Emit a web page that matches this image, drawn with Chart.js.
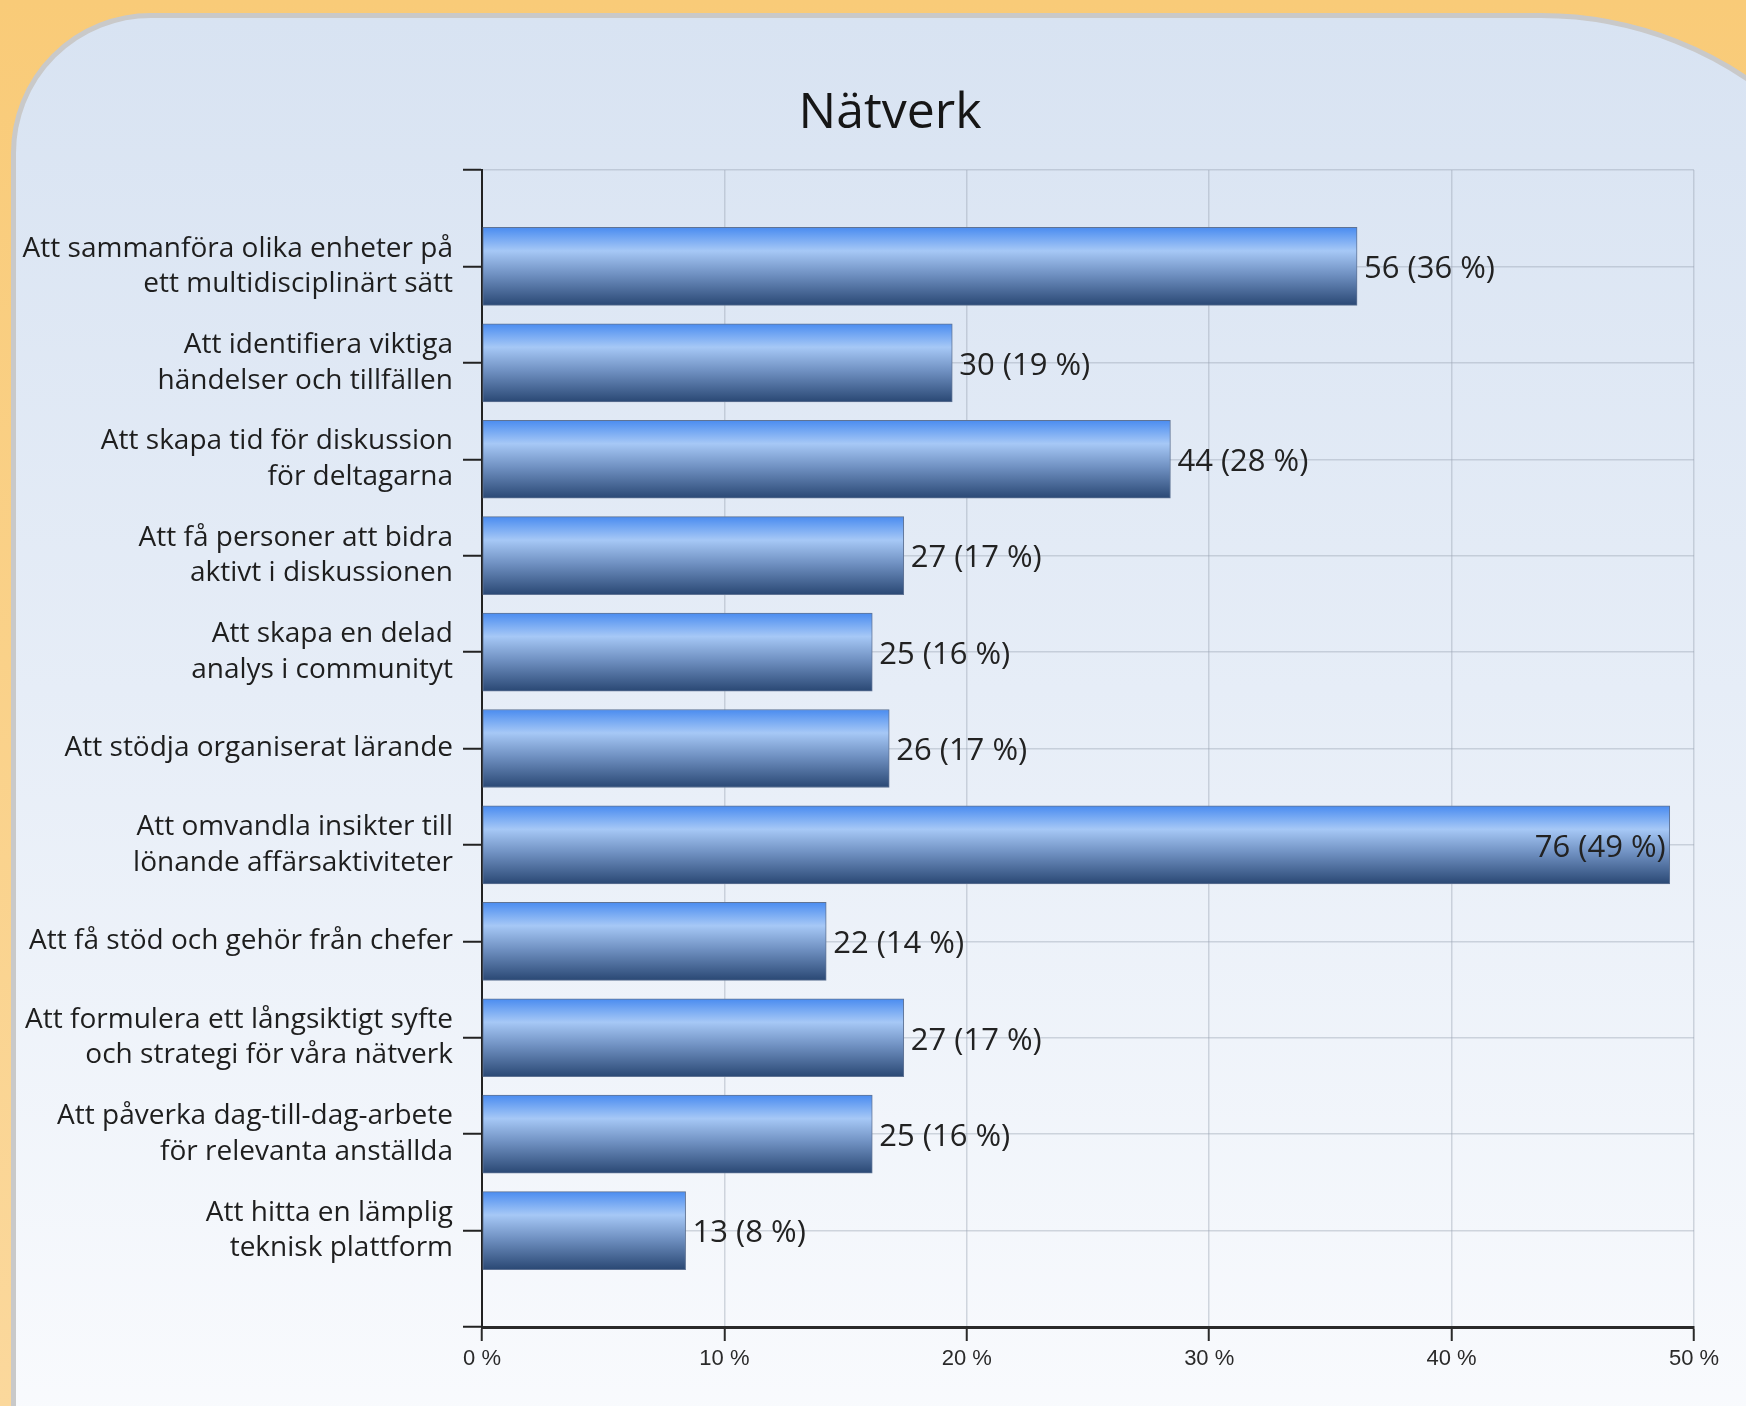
<!DOCTYPE html>
<html>
<head>
<meta charset="utf-8">
<script src="https://cdn.jsdelivr.net/npm/chart.js@4/dist/chart.umd.min.js"></script>
<style>
  html, body { margin: 0; padding: 0; }
  body {
    width: 1746px; height: 1406px; overflow: hidden; position: relative;
    background: linear-gradient(#f9cb78, #fbd89c);
  }
  #panel {
    position: absolute; left: 11px; top: 13px; width: 1900px; height: 1500px;
    box-sizing: border-box; border: 5px solid #c9c9c9;
    border-radius: 140px 370px 0 0;
    background: linear-gradient(#d8e3f2 0%, #e6edf7 45%, #fbfcfe 100%);
  }
  #wrap { position: absolute; left: 0; top: 0; width: 1800px; height: 1406px; }
</style>
</head>
<body>
<div id="panel"></div>
<div id="wrap"><canvas id="chart" width="1800" height="1406"></canvas></div>
<script>
const categories = [
  ['Att sammanföra olika enheter på', 'ett multidisciplinärt sätt'],
  ['Att identifiera viktiga', 'händelser och tillfällen'],
  ['Att skapa tid för diskussion', 'för deltagarna'],
  ['Att få personer att bidra', 'aktivt i diskussionen'],
  ['Att skapa en delad', 'analys i communityt'],
  'Att stödja organiserat lärande',
  ['Att omvandla insikter till', 'lönande affärsaktiviteter'],
  'Att få stöd och gehör från chefer',
  ['Att formulera ett långsiktigt syfte', 'och strategi för våra nätverk'],
  ['Att påverka dag-till-dag-arbete', 'för relevanta anställda'],
  ['Att hitta en lämplig', 'teknisk plattform']
];
// antal svar
const counts = [56, 30, 44, 27, 25, 26, 76, 22, 27, 25, 13];
// andel i procent (stapellängd)
const shares = [36.1, 19.4, 28.4, 17.4, 16.1, 16.8, 49.0, 14.2, 17.4, 16.1, 8.4];
// avrundad procent i etiketten
const shareLabels = [36, 19, 28, 17, 16, 17, 49, 14, 17, 16, 8];
const xTicks = [0, 10, 20, 30, 40, 50];

const BAR = 78;
const FONT = '"Open Sans", "Noto Sans", sans-serif';

// empty slots above and below so the bars sit one step in from the frame
const labels = [''].concat(categories, ['']);
const values = [null].concat(shares, [null]);

// glossy vertical gradient, set per bar once positions are known
const barShine = {
  id: 'barShine',
  beforeDatasetsDraw(chart) {
    const ctx = chart.ctx;
    chart.getDatasetMeta(0).data.forEach(bar => {
      if (!bar.options || Object.isFrozen(bar.options) || !isFinite(bar.y)) return;
      const h = bar.height || BAR;
      const g = ctx.createLinearGradient(0, bar.y - h / 2, 0, bar.y + h / 2);
      g.addColorStop(0, '#4a8cf0');
      g.addColorStop(0.3, '#a6c8f6');
      g.addColorStop(0.6, '#7091c2');
      g.addColorStop(1, '#2a4874');
      bar.options.backgroundColor = g;
    });
  }
};

const valueLabels = {
  id: 'valueLabels',
  afterDatasetsDraw(chart) {
    const ctx = chart.ctx;
    const meta = chart.getDatasetMeta(0);
    ctx.save();
    ctx.font = '31px ' + FONT;
    ctx.fillStyle = '#222';
    ctx.textBaseline = 'middle';
    meta.data.forEach((bar, i) => {
      if (values[i] == null) return;
      const k = i - 1;
      const text = `${counts[k]} (${shareLabels[k]} %)`;
      const w = ctx.measureText(text).width;
      if (bar.x + 6 + w > chart.chartArea.right) {
        ctx.textAlign = 'right';
        ctx.fillText(text, bar.x - 4, bar.y + 3);
      } else {
        ctx.textAlign = 'left';
        ctx.fillText(text, bar.x + 7, bar.y + 3);
      }
    });
    ctx.restore();
  }
};

new Chart(document.getElementById('chart'), {
  type: 'bar',
  data: {
    labels,
    datasets: [{
      data: values,
      backgroundColor: () => '#5b86c4',
      borderColor: '#5f7394',
      borderWidth: 1,
      borderSkipped: false,
      barThickness: BAR
    }]
  },
  options: {
    indexAxis: 'y',
    responsive: false,
    animation: false,
    devicePixelRatio: 1,
    layout: { padding: { left: 0, right: 20, top: 0, bottom: 0 } },
    plugins: {
      legend: { display: false },
      tooltip: { enabled: false },
      title: {
        display: true,
        text: 'Nätverk',
        color: '#161616',
        font: { family: FONT, size: 50, weight: 'normal', lineHeight: 1.2 },
        padding: { top: 84, bottom: 26 }
      }
    },
    scales: {
      x: {
        min: 0,
        max: 50,
        afterBuildTicks: s => { s.ticks = xTicks.map(v => ({ value: v })); },
        afterFit: s => { s.height = 79; },
        border: { color: '#2a2a2a', width: 3 },
        grid: { color: 'rgba(150,160,175,0.4)', lineWidth: 1.5, tickColor: '#2a2a2a', tickWidth: 2, tickLength: 14 },
        ticks: {
          padding: 5,
          color: '#2a2a2a',
          font: { family: '"Liberation Sans", Arial, sans-serif', size: 22 },
          callback: v => v + ' %'
        }
      },
      y: {
        offset: false,
        afterFit: s => { s.width = 482; },
        border: { color: '#222', width: 2 },
        grid: { offset: false, color: 'rgba(150,160,175,0.4)', lineWidth: 1.5, tickColor: '#222', tickWidth: 2, tickLength: 19 },
        ticks: {
          padding: 10,
          color: '#1e1e1e',
          autoSkip: false,
          font: { family: FONT, size: 28, lineHeight: 1.27 }
        }
      },
      // empty strip on the right so the title sits where the original has it
      yRight: {
        type: 'category',
        axis: 'y',
        position: 'right',
        afterFit: s => { s.width = 86; },
        border: { display: false },
        grid: { display: false },
        ticks: { display: false }
      }
    }
  },
  plugins: [barShine, valueLabels]
});
</script>
</body>
</html>
